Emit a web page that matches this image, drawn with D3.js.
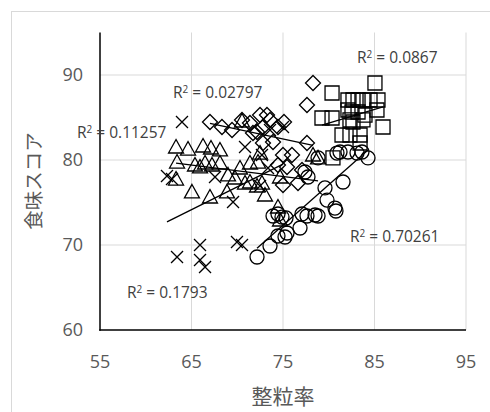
<!DOCTYPE html>
<html><head><meta charset="utf-8">
<script src="https://cdn.jsdelivr.net/npm/d3@7"></script>
<style>body{margin:0;background:#fff}svg{display:block}</style>
</head><body>
<svg id="c" width="490" height="412"></svg>
<script>
// ---- data (x = 整粒率, y = 食味スコア) ----
const crossX = [63.96,62.32,62.87,67.57,69.54,69.97,70.52,65.93,63.42,65.93,66.48,70.85,72.7,73.58,72.49,75.0,73.36];
const crossY = [84.47,78.12,77.76,78.0,75.06,70.35,70.0,70.0,68.59,68.24,67.41,81.53,80.59,83.53,76.94,83.88,79.06];
const triX = [63.31,64.62,66.26,67.13,68.11,63.42,65.38,66.48,67.24,68.11,63.31,65.05,67.02,68.88,69.75,70.3,71.39,72.27,70.85,71.39,72.16,72.7,73.03,74.45,74.67,70.52,72.49,78.28,78.83,74.67,65.93,68.99];
const triY = [81.53,81.29,81.65,81.41,81.18,79.76,79.41,79.65,79.41,79.65,77.76,76.24,75.65,76.24,77.88,79.06,79.65,79.76,77.29,77.41,76.94,77.29,75.88,74.47,72.94,84.59,80.82,80.59,80.24,78.0,79.18,78.24];
const diaX = [67.02,68.33,69.43,70.52,71.39,71.72,72.49,73.25,73.58,72.81,72.16,74.45,75.11,72.81,73.91,78.28,77.62,77.62,75.0,75.98,75.44,74.45,77.08,76.64,75.0];
const diaY = [84.47,83.88,83.53,84.71,84.35,83.18,85.29,85.29,84.71,83.88,83.29,83.88,84.47,82.0,82.12,89.06,86.47,82.0,80.59,80.59,79.18,79.41,78.82,77.29,77.06];
const sqX = [85.05,80.36,82.1,82.65,83.2,83.74,84.51,85.38,79.26,80.36,82.1,82.54,83.2,83.96,85.27,82.32,82.65,83.74,85.93,81.45,82.32,83.42,83.42,80.46];
const sqY = [89.06,87.88,87.06,87.06,87.06,87.06,87.06,87.06,84.94,84.94,85.88,85.65,85.65,85.29,85.88,84.71,84.47,84.71,83.88,82.94,82.94,82.94,82.0,80.24];
const cirX = [72.16,73.58,74.45,75.22,75.44,76.86,73.91,74.45,74.89,75.33,77.08,77.62,78.5,78.83,80.68,80.79,79.81,79.59,81.56,77.4,77.73,78.83,80.9,81.23,82.1,83.09,83.63,84.29];
const cirY = [68.59,69.88,71.06,70.94,71.41,72.0,73.41,73.65,73.29,73.18,73.65,73.41,73.53,73.41,74.35,74.0,75.29,76.71,77.41,78.59,78.0,80.24,80.82,80.94,80.94,80.82,80.94,80.24];
const r2Labels = ["0.1793","0.11257","0.02797","0.0867","0.70261"];
const xTicks = [55,65,75,85,95];
const yTicks = [60,70,80,90];
const xTitle = "整粒率";
const yTitle = "食味スコア";

const svg = d3.select("#c");
const x = d3.scaleLinear().domain([55,95]).range([100,466]);
const y = d3.scaleLinear().domain([60,95]).range([330,32.5]);

// outer chart border
svg.append("rect").attr("x",11.5).attr("y",11.5).attr("width",520).attr("height",420)
  .attr("fill","#fff").attr("stroke","#d9d9d9");

// gridlines
svg.append("g").selectAll("line").data(xTicks.slice(1)).join("line")
  .attr("x1",d=>x(d)).attr("x2",d=>x(d)).attr("y1",y(60)).attr("y2",y(95))
  .attr("stroke","#d9d9d9").attr("stroke-width",1);
svg.append("g").selectAll("line").data(yTicks.slice(1)).join("line")
  .attr("x1",x(55)).attr("x2",x(95)).attr("y1",d=>y(d)).attr("y2",d=>y(d))
  .attr("stroke","#d9d9d9").attr("stroke-width",1);

// axes lines
svg.append("line").attr("x1",x(55)).attr("x2",x(55)).attr("y1",y(95)).attr("y2",y(60)+0.75)
  .attr("stroke","#000").attr("stroke-width",1.5);
svg.append("line").attr("x1",x(55)-0.75).attr("x2",x(95)).attr("y1",y(60)).attr("y2",y(60))
  .attr("stroke","#000").attr("stroke-width",1.5);

// tick labels
const tickFont = "'Open Sans', 'Noto Sans', sans-serif";
svg.append("g").selectAll("text").data(yTicks).join("text")
  .attr("x",83).attr("y",d=>y(d)).attr("dy","0.35em").attr("text-anchor","end")
  .attr("font-family",tickFont).attr("font-size",18).attr("fill","#595959").text(d=>d);
svg.append("g").selectAll("text").data(xTicks).join("text")
  .attr("x",d=>x(d)).attr("y",362).attr("dy","0.35em").attr("text-anchor","middle")
  .attr("font-family",tickFont).attr("font-size",18).attr("fill","#595959").text(d=>d);

// axis titles
svg.append("text").attr("x",283).attr("y",397).attr("dy","0.35em").attr("text-anchor","middle")
  .attr("font-family","'Noto Sans CJK JP', sans-serif").attr("font-size",21).attr("fill","#595959").text(xTitle);
svg.append("text").attr("transform","translate(34,181) rotate(-90)").attr("dy","0.35em").attr("text-anchor","middle")
  .attr("font-family","'Noto Sans CJK JP', sans-serif").attr("font-size",19.5).attr("fill","#595959").text(yTitle);

// marker shapes
const shapes = {
  cross: "M-6,-6L6,6M-6,6L6,-6",
  tri: "M0,-7.5L7.5,6L-7.5,6Z",
  dia: "M0,-7.5L7.5,0L0,7.5L-7.5,0Z",
  sq: "M-7,-7H7V7H-7Z",
  cir: d3.symbol(d3.symbolCircle, Math.PI*7*7)()
};
const series = [
  {xs:crossX, ys:crossY, shape:"cross"},
  {xs:triX, ys:triY, shape:"tri"},
  {xs:diaX, ys:diaY, shape:"dia"},
  {xs:sqX, ys:sqY, shape:"sq"},
  {xs:cirX, ys:cirY, shape:"cir"}
];

// trendlines (least squares)
function fit(xs, ys){
  const n=xs.length, mx=d3.mean(xs), my=d3.mean(ys);
  let sxy=0,sxx=0; for(let i=0;i<n;i++){sxy+=(xs[i]-mx)*(ys[i]-my);sxx+=(xs[i]-mx)**2;}
  const b=sxy/sxx; return {a:my-b*mx,b};
}
const plot = svg.append("g");
series.forEach(s=>{
  const g = plot.append("g");
  g.selectAll("path").data(s.xs.map((v,i)=>[v,s.ys[i]])).join("path")
    .attr("d",shapes[s.shape]).attr("transform",d=>`translate(${x(d[0])},${y(d[1])})`)
    .attr("fill","none").attr("stroke","#000").attr("stroke-width",1.3);
});
series.forEach(s=>{
  const f = fit(s.xs, s.ys);
  const [x0,x1] = d3.extent(s.xs);
  plot.append("line").attr("x1",x(x0)).attr("y1",y(f.a+f.b*x0)).attr("x2",x(x1)).attr("y2",y(f.a+f.b*x1))
    .attr("stroke","#000").attr("stroke-width",1.3);
});

// R² labels
const labPos = [[127,293],[77,133],[173,93],[357,58],[350,237]];
r2Labels.forEach((v,i)=>{
  const t = svg.append("text").attr("x",labPos[i][0]).attr("y",labPos[i][1]).attr("dy","0.35em")
    .attr("font-family",tickFont).attr("font-size",15.5).attr("fill","#404040");
  t.append("tspan").text("R");
  t.append("tspan").attr("font-size",10).attr("dy","-0.5em").text("2");
  t.append("tspan").attr("dy","0.32em").text(" = " + v);
});
</script>
</body></html>
